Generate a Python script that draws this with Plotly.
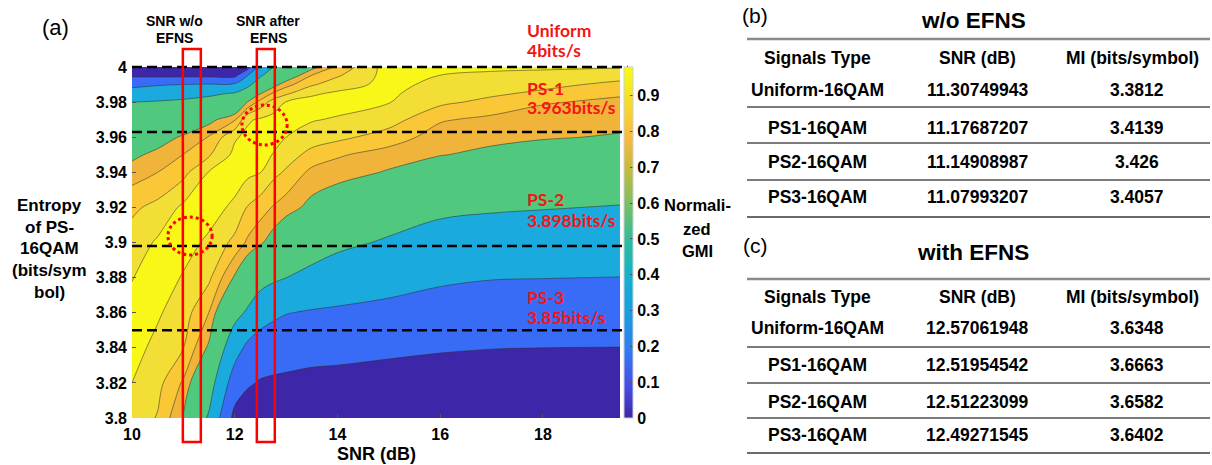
import plotly.graph_objects as go

# ---- canvas / plot-area geometry (pixels) ----
W, H = 1212, 465
PL, PR, PT, PB = 132, 620, 67, 418


def xp(px):
    return (px - PL) / (PR - PL)


def yp(py):
    return (PB - py) / (PB - PT)


# ---- normalized GMI map: SNR (dB) x entropy of PS-16QAM (bits/symbol) ----
snr = [10, 10.5, 11, 11.5, 12, 12.25, 12.5, 12.75, 13, 13.5, 14, 15, 16, 17, 18, 19.5]
entropy = [3.80, 3.82, 3.84, 3.86, 3.88, 3.90, 3.92, 3.94, 3.95, 3.96, 3.97, 3.98, 3.985, 3.99, 3.995, 4.00]
gmi_380 = [0.932, 0.896, 0.797, 0.578, 0.145, 0.087, 0.056, 0.048, 0.044, 0.028, 0.024, 0.020, 0.020, 0.020, 0.020, 0.020]
gmi_382 = [0.950, 0.916, 0.843, 0.683, 0.303, 0.223, 0.185, 0.172, 0.164, 0.147, 0.141, 0.121, 0.109, 0.102, 0.098, 0.097]
gmi_384 = [0.967, 0.937, 0.901, 0.788, 0.478, 0.359, 0.314, 0.296, 0.284, 0.266, 0.258, 0.237, 0.216, 0.204, 0.200, 0.198]
gmi_386 = [0.966, 0.956, 0.924, 0.849, 0.655, 0.577, 0.478, 0.434, 0.406, 0.385, 0.375, 0.352, 0.322, 0.305, 0.302, 0.298]
gmi_388 = [0.948, 0.975, 0.946, 0.910, 0.792, 0.725, 0.671, 0.629, 0.601, 0.555, 0.509, 0.467, 0.427, 0.407, 0.403, 0.398]
gmi_390 = [0.922, 0.957, 0.968, 0.941, 0.886, 0.841, 0.809, 0.771, 0.730, 0.678, 0.637, 0.581, 0.529, 0.512, 0.505, 0.496]
gmi_392 = [0.890, 0.915, 0.960, 0.970, 0.940, 0.897, 0.873, 0.846, 0.824, 0.782, 0.746, 0.688, 0.635, 0.617, 0.607, 0.593]
gmi_394 = [0.826, 0.850, 0.885, 0.953, 0.973, 0.962, 0.951, 0.915, 0.893, 0.836, 0.826, 0.794, 0.750, 0.729, 0.711, 0.693]
gmi_395 = [0.785, 0.818, 0.851, 0.894, 0.963, 0.975, 0.965, 0.948, 0.923, 0.884, 0.856, 0.828, 0.803, 0.784, 0.762, 0.744]
gmi_396 = [0.724, 0.766, 0.810, 0.854, 0.944, 0.962, 0.971, 0.967, 0.950, 0.924, 0.913, 0.876, 0.827, 0.816, 0.806, 0.794]
gmi_397 = [0.662, 0.689, 0.727, 0.780, 0.844, 0.943, 0.957, 0.965, 0.974, 0.954, 0.944, 0.923, 0.855, 0.838, 0.829, 0.819]
gmi_398 = [0.600, 0.612, 0.628, 0.652, 0.703, 0.802, 0.869, 0.923, 0.952, 0.964, 0.973, 0.952, 0.912, 0.885, 0.854, 0.841]
gmi_3985 = [0.484, 0.515, 0.541, 0.572, 0.611, 0.687, 0.795, 0.856, 0.890, 0.943, 0.957, 0.958, 0.925, 0.910, 0.889, 0.856]
gmi_399 = [0.351, 0.384, 0.402, 0.414, 0.432, 0.560, 0.690, 0.773, 0.832, 0.893, 0.929, 0.964, 0.937, 0.926, 0.916, 0.885]
gmi_3995 = [0.175, 0.170, 0.167, 0.164, 0.160, 0.403, 0.585, 0.687, 0.748, 0.854, 0.895, 0.969, 0.949, 0.943, 0.938, 0.921]
gmi_400 = [0.020, 0.020, 0.020, 0.020, 0.020, 0.115, 0.481, 0.601, 0.664, 0.778, 0.861, 0.975, 0.962, 0.957, 0.956, 0.954]
gmi = [gmi_380, gmi_382, gmi_384, gmi_386, gmi_388, gmi_390, gmi_392, gmi_394,
       gmi_395, gmi_396, gmi_397, gmi_398, gmi_3985, gmi_399, gmi_3995, gmi_400]

# contour levels and the fill colour above each level
levels = [0.2, 0.4, 0.6, 0.8, 0.85, 0.9, 0.95]
band_colors = ["rgb(56,108,246)", "rgb(27,170,222)", "rgb(80,200,125)", "rgb(240,180,58)",
               "rgb(250,200,55)", "rgb(242,222,52)", "rgb(249,247,24)"]
base_color = "rgb(62,38,168)"

parula = [
    [0.0, "rgb(62,38,168)"], [0.1, "rgb(71,80,238)"], [0.2, "rgb(46,127,242)"],
    [0.3, "rgb(26,157,225)"], [0.4, "rgb(18,177,208)"], [0.5, "rgb(42,188,160)"],
    [0.6, "rgb(114,191,105)"], [0.7, "rgb(190,188,62)"], [0.8, "rgb(248,186,61)"],
    [0.9, "rgb(245,221,40)"], [1.0, "rgb(249,251,14)"],
]

fig = go.Figure()
# a "<" constraint shades where it fails, i.e. where GMI is above the level
for lev, col in zip(levels, band_colors):
    fig.add_trace(go.Contour(
        x=snr, y=entropy, z=gmi, showscale=False, hoverinfo="skip",
        contours=dict(type="constraint", operation="<", value=lev),
        fillcolor=col, line=dict(color="rgba(45,45,45,0.75)", width=0.7),
    ))

cb_ticks = [0, 0.1, 0.2, 0.3, 0.4, 0.5, 0.6, 0.7, 0.8, 0.9]
fig.add_trace(go.Scatter(
    x=[None], y=[None], mode="markers", hoverinfo="skip",
    marker=dict(color=[0], cmin=0, cmax=0.98, colorscale=parula, showscale=True,
                colorbar=dict(x=xp(624), xanchor="left", xpad=0, y=0.5, yanchor="middle",
                              ypad=0, len=PB - PT, lenmode="pixels", thickness=9,
                              outlinewidth=1, outlinecolor="#cfcfcf",
                              tickvals=cb_ticks, ticktext=[f"{t:g}" for t in cb_ticks],
                              ticks="inside", ticklen=3, tickcolor="#555",
                              tickfont=dict(family="Liberation Sans", size=16, color="black", weight="bold"))),
))

xticks = [10, 12, 14, 16, 18]
yticks = [3.8, 3.82, 3.84, 3.86, 3.88, 3.9, 3.92, 3.94, 3.96, 3.98, 4.0]
tickfont = dict(family="Liberation Sans", size=16, color="black", weight="bold")

fig.update_layout(
    width=W, height=H, margin=dict(l=PL, r=W - PR, t=PT, b=H - PB),
    paper_bgcolor="white", plot_bgcolor=base_color, showlegend=False,
    xaxis=dict(range=[10, 19.5], tickvals=xticks, ticktext=[str(t) for t in xticks],
               ticks="inside", ticklen=4, tickcolor="#555", showgrid=False, zeroline=False,
               tickfont=tickfont, ticklabelstandoff=5),
    yaxis=dict(range=[3.8, 4.0], tickvals=yticks, ticktext=[f"{t:g}" for t in yticks],
               ticks="inside", ticklen=4, tickcolor="#555", showgrid=False, zeroline=False,
               tickfont=tickfont, ticklabelstandoff=4),
)

ann = []


def label(px, py, text, size, bold=True, color="black", family="Liberation Sans", anchor="center"):
    ann.append(dict(x=xp(px), y=yp(py), xref="paper", yref="paper", text=text, showarrow=False,
                    xanchor=anchor, yanchor="middle",
                    font=dict(family=family, size=size, color=color, weight="bold" if bold else "normal")))


# panel (a)
label(55, 28, "(a)", 22, bold=False)
label(174, 21, "SNR w/o", 14)
label(174, 38, "EFNS", 14)
label(268, 21, "SNR after", 14)
label(268, 38, "EFNS", 14)
label(376, 454, "SNR (dB)", 18)
for py, t in zip([205, 227, 248, 270, 292], ["Entropy", "of PS-", "16QAM", "(bits/sym", "bol)"]):
    label(49, py, t, 17)
for py, t in zip([205, 229, 251], ["Normali-", "zed", "GMI"]):
    label(697, py, t, 16.5)

red = "rgb(245,20,20)"
ps_labels = [("Uniform", "4bits/s", 30), ("PS-1", "3.963bits/s", 88),
             ("PS-2", "3.898bits/s", 200), ("PS-3", "3.85bits/s", 297)]
for a, b, py in ps_labels:
    label(525, py, a, 17.5, color=red, family="Lato", anchor="left")
    label(525, py + 20, b, 17.5, color=red, family="Lato", anchor="left")

shapes = []
ps_entropy = [4.0, 3.963, 3.898, 3.85]
for e in ps_entropy:
    ye = (e - 3.8) / 0.2
    shapes.append(dict(type="line", xref="paper", yref="paper", x0=0, x1=xp(628), y0=ye, y1=ye,
                       line=dict(color="black", width=2.5, dash="10px,5px")))
for x0, x1 in [(10.99, 11.34), (12.43, 12.78)]:
    shapes.append(dict(type="rect", xref="x", yref="paper", x0=x0, x1=x1, y0=yp(442), y1=yp(49),
                       line=dict(color="red", width=2.5)))
for x0, x1, y0, y1 in [(12.14, 13.02, 3.9556, 3.9783), (10.70, 11.56, 3.8929, 3.9145)]:
    shapes.append(dict(type="circle", xref="x", yref="y", x0=x0, x1=x1, y0=y0, y1=y1,
                       line=dict(color="red", width=3, dash="dot")))

# tables (b) and (c)
signals = ["Uniform-16QAM", "PS1-16QAM", "PS2-16QAM", "PS3-16QAM"]
snr_wo = [11.30749943, 11.17687207, 11.14908987, 11.07993207]
mi_wo = [3.3812, 3.4139, 3.426, 3.4057]
snr_with = [12.57061948, 12.51954542, 12.51223099, 12.49271545]
mi_with = [3.6348, 3.6663, 3.6582, 3.6402]
headers = ["Signals Type", "SNR (dB)", "MI (bits/symbol)"]


def table(tag, tag_y, title, title_y, top, head_y, row_y, seps, bottom, snrs, mis):
    label(755, tag_y, tag, 21, bold=False)
    label(973, title_y, title, 22.5)
    for cx, h in zip([817, 977, 1132], headers):
        label(cx, head_y, h, 17.5)
    for ry, s, v, m in zip(row_y, signals, snrs, mis):
        label(817, ry, s, 17.5)
        label(977, ry, str(v), 17.5)
        label(1137, ry, str(m), 17.5)
    for y, w, c in [(top, 2.5, "#8a8a8a"), (bottom, 2, "#6a6a6a")] + [(s, 1.5, "#505050") for s in seps]:
        shapes.append(dict(type="line", xref="paper", yref="paper", x0=xp(747), x1=xp(1210),
                           y0=yp(y), y1=yp(y), line=dict(color=c, width=w)))


table("(b)", 15, "w/o EFNS", 20, 39, 58, [90, 128, 162, 197], [107, 143, 180], 217, snr_wo, mi_wo)
table("(c)", 245, "with EFNS", 252, 279, 297, [328, 365, 402, 435], [347, 383, 418], 453, snr_with, mi_with)

fig.update_layout(annotations=ann, shapes=shapes)
fig.write_html("out.html")
